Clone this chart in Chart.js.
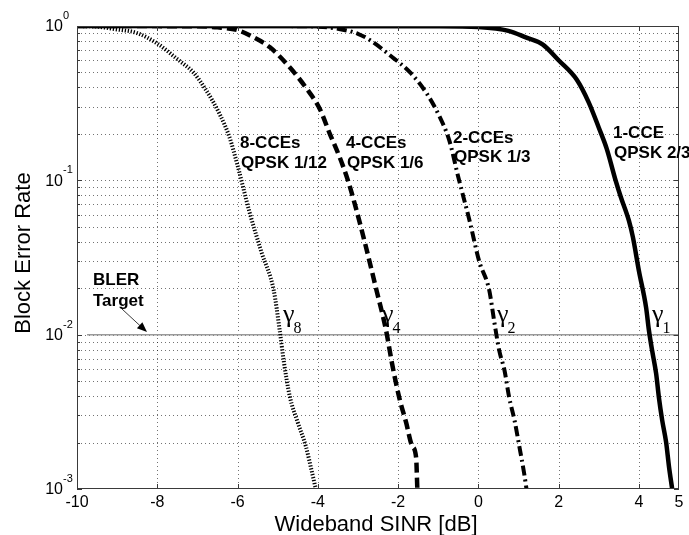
<!DOCTYPE html>
<html>
<head>
<meta charset="utf-8">
<script src="https://cdn.jsdelivr.net/npm/chart.js@4/dist/chart.umd.min.js"></script>
<style>
  html, body { margin: 0; padding: 0; background: #fff; }
  #wrap { width: 689px; height: 535px; }
</style>
</head>
<body>
<div id="wrap"><canvas id="c" width="689" height="535"></canvas></div>
<script>
// Wideband SINR [dB] and block error rate for each PDCCH aggregation level
const sinr8 = [-10, -9.5, -9, -8.5, -8, -7.5, -7.1, -6.8, -6.45, -6.2, -6.0, -5.7, -5.4, -5.1, -4.95, -4.85, -4.7, -4.5, -4.3, -4.15, -4.05];
const bler8 = [1, 0.99, 0.95, 0.90, 0.77, 0.61, 0.50, 0.39, 0.27, 0.19, 0.125, 0.062, 0.034, 0.0195, 0.0107, 0.0068, 0.0040, 0.0027, 0.0019, 0.0013, 0.001];

const sinr4 = [-10, -7, -6.5, -6.0, -5.7, -5.2, -4.7, -4.3, -3.95, -3.7, -3.45, -3.25, -3.05, -2.8, -2.55, -2.3, -2.15, -1.97, -1.8, -1.65, -1.55, -1.52];
const bler4 = [1, 0.995, 0.98, 0.94, 0.87, 0.73, 0.54, 0.40, 0.29, 0.20, 0.14, 0.10, 0.066, 0.037, 0.020, 0.0107, 0.0065, 0.0039, 0.0027, 0.0019, 0.0016, 0.001];

const sinr2 = [-10, -4.5, -4, -3.5, -3.0, -2.7, -2.15, -1.7, -1.3, -0.97, -0.72, -0.5, -0.22, 0.02, 0.27, 0.4, 0.52, 0.65, 0.77, 0.9, 1.02, 1.14, 1.2];
const bler2 = [1, 0.998, 0.99, 0.96, 0.89, 0.81, 0.63, 0.50, 0.37, 0.26, 0.18, 0.105, 0.055, 0.030, 0.0195, 0.012, 0.0079, 0.0059, 0.0039, 0.0028, 0.0019, 0.00127, 0.001];

const sinr1 = [-10, -1, 0, 0.75, 1.2, 1.6, 2.0, 2.45, 2.75, 3.0, 3.2, 3.42, 3.55, 3.75, 3.85, 4.0, 4.18, 4.25, 4.33, 4.43, 4.5, 4.58, 4.68, 4.75, 4.83];
const bler1 = [1, 0.998, 0.985, 0.93, 0.84, 0.76, 0.60, 0.45, 0.32, 0.22, 0.16, 0.10, 0.078, 0.055, 0.043, 0.026, 0.015, 0.0107, 0.0079, 0.0056, 0.0039, 0.0028, 0.0020, 0.0014, 0.001];

// BLER target level
const targetSinr = [-9.75, 5];
const targetBler = [0.01, 0.01];

// Axis ticks
const xTicks = [-10, -8, -6, -4, -2, 0, 2, 4, 5];
const yDecades = [1, 0.1, 0.01, 0.001];
const yExponents = ['0', '-1', '-2', '-3'];

// Curve annotations: [line 1, line 2]
const curveText = [
  ['8-CCEs', 'QPSK 1/12'],
  ['4-CCEs', 'QPSK 1/6'],
  ['2-CCEs', 'QPSK 1/3'],
  ['1-CCE', 'QPSK 2/3']
];
const gammaSubs = ['8', '4', '2', '1'];

const pts = (xs, ys) => xs.map((x, i) => ({ x, y: ys[i] }));

const SANS = '"Liberation Sans", Arial, Helvetica, sans-serif';
const SERIF = '"Liberation Serif", "Times New Roman", serif';

const overlay = {
  id: 'overlay',
  beforeDatasetsDraw(chart) {
    const { ctx, chartArea: a, scales: { x, y } } = chart;
    ctx.save();
    ctx.strokeStyle = 'rgba(0,0,0,0.55)';
    ctx.lineWidth = 1;
    ctx.setLineDash([1, 3]);
    ctx.beginPath();
    xTicks.slice(1, -1).forEach(v => {
      const px = Math.round(x.getPixelForValue(v)) + 0.5;
      ctx.moveTo(px, a.top); ctx.lineTo(px, a.bottom);
    });
    [0.001, 0.01, 0.1].forEach(d => {
      for (let m = 1; m <= 9; m++) {
        if (m === 1 && d === 0.001) continue;
        const py = Math.round(y.getPixelForValue(m * d)) + 0.5;
        ctx.moveTo(a.left, py); ctx.lineTo(a.right, py);
      }
    });
    ctx.stroke();
    ctx.restore();
  },
  afterDatasetsDraw(chart) {
    const { ctx, chartArea: a, scales: { x, y } } = chart;
    ctx.save();
    // axes box
    ctx.strokeStyle = '#3a3a3a';
    ctx.lineWidth = 1;
    ctx.setLineDash([]);
    ctx.strokeRect(a.left + 0.5, a.top + 0.5, a.right - a.left - 1, a.bottom - a.top - 1);

    // inward tick marks
    ctx.beginPath();
    xTicks.slice(1, -1).forEach(v => {
      const px = Math.round(x.getPixelForValue(v)) + 0.5;
      ctx.moveTo(px, a.bottom); ctx.lineTo(px, a.bottom - 5);
      ctx.moveTo(px, a.top); ctx.lineTo(px, a.top + 5);
    });
    [0.001, 0.01, 0.1].forEach(d => {
      for (let m = 1; m <= 9; m++) {
        const py = Math.round(y.getPixelForValue(m * d)) + 0.5;
        const len = m === 1 ? 5 : 3;
        ctx.moveTo(a.left, py); ctx.lineTo(a.left + len, py);
        ctx.moveTo(a.right, py); ctx.lineTo(a.right - len, py);
      }
    });
    ctx.stroke();

    // y tick labels with exponents
    ctx.fillStyle = '#000';
    yDecades.forEach((d, i) => {
      const py = y.getPixelForValue(d);
      ctx.font = '16px ' + SANS;
      ctx.textAlign = 'right';
      ctx.textBaseline = 'middle';
      ctx.fillText('10', 63, py + 1);
      ctx.font = '11px ' + SANS;
      ctx.textAlign = 'left';
      ctx.fillText(yExponents[i], 63, py - 10);
    });

    // axis titles
    ctx.font = '22px ' + SANS;
    ctx.textAlign = 'center';
    ctx.textBaseline = 'middle';
    ctx.fillText('Wideband SINR [dB]', 376, 525);
    ctx.save();
    ctx.translate(24, 253);
    ctx.rotate(-Math.PI / 2);
    ctx.fillText('Block Error Rate', 0, 0);
    ctx.restore();

    // curve annotations
    ctx.font = 'bold 17px ' + SANS;
    ctx.textAlign = 'left';
    ctx.textBaseline = 'middle';
    const spots = [[240, 143, 163], [346, 143, 163], [453, 138, 157], [613, 133, 153]];
    curveText.forEach((t, i) => {
      const [lx, y1, y2] = spots[i];
      ctx.fillText(t[0], lx, y1);
      ctx.fillText(t[1], lx + 1, y2);
    });

    // BLER target note with arrow
    ctx.fillText('BLER', 93, 280);
    ctx.fillText('Target', 93, 301);
    ctx.beginPath();
    ctx.moveTo(122, 309);
    ctx.lineTo(142, 327.5);
    ctx.lineWidth = 1;
    ctx.stroke();
    const tipX = 147, tipY = 332;
    const ang = Math.atan2(tipY - 309, tipX - 122);
    ctx.beginPath();
    ctx.moveTo(tipX, tipY);
    ctx.lineTo(tipX - 10 * Math.cos(ang) + 4 * Math.sin(ang), tipY - 10 * Math.sin(ang) - 4 * Math.cos(ang));
    ctx.lineTo(tipX - 10 * Math.cos(ang) - 4 * Math.sin(ang), tipY - 10 * Math.sin(ang) + 4 * Math.cos(ang));
    ctx.closePath();
    ctx.fill();

    // threshold symbols
    const gx = [283, 382, 497, 652];
    gx.forEach((gxi, i) => {
      ctx.font = '26px ' + SERIF;
      ctx.textAlign = 'left';
      ctx.textBaseline = 'alphabetic';
      ctx.fillText('\u03b3', gxi, 322);
      const w = ctx.measureText('\u03b3').width;
      ctx.font = '16px ' + SERIF;
      ctx.fillText(gammaSubs[i], gxi + w - 1, 333);
    });
    ctx.restore();
  }
};

new Chart(document.getElementById('c'), {
  type: 'line',
  data: {
    datasets: [
      { label: 'BLER target', data: pts(targetSinr, targetBler), borderColor: '#9a9a9a', borderWidth: 1.5, pointRadius: 0, order: 5 },
      { label: '8-CCEs QPSK 1/12', data: pts(sinr8, bler8), borderColor: '#000', borderWidth: 4, borderDash: [1.3, 1.7], pointRadius: 0, cubicInterpolationMode: 'monotone', order: 1 },
      { label: '4-CCEs QPSK 1/6', data: pts(sinr4, bler4), borderColor: '#000', borderWidth: 4.5, borderDash: [10, 5], pointRadius: 0, cubicInterpolationMode: 'monotone', order: 1 },
      { label: '2-CCEs QPSK 1/3', data: pts(sinr2, bler2), borderColor: '#000', borderWidth: 4, borderDash: [10, 4, 2, 4], pointRadius: 0, cubicInterpolationMode: 'monotone', order: 1 },
      { label: '1-CCE QPSK 2/3', data: pts(sinr1, bler1), borderColor: '#000', borderWidth: 4.5, pointRadius: 0, cubicInterpolationMode: 'monotone', order: 1 }
    ]
  },
  options: {
    responsive: false,
    animation: false,
    devicePixelRatio: 1,
    layout: { padding: { left: 0, right: 10, top: 26, bottom: 0 } },
    plugins: { legend: { display: false }, tooltip: { enabled: false } },
    scales: {
      x: {
        type: 'linear',
        min: -10,
        max: 5,
        afterBuildTicks: s => { s.ticks = xTicks.map(v => ({ value: v })); },
        afterFit: s => { s.height = 46; },
        grid: { display: false, drawTicks: false },
        border: { display: false },
        ticks: {
          color: '#000',
          font: { family: SANS, size: 16 },
          padding: 4,
          maxRotation: 0,
          autoSkip: false,
          callback: v => String(v)
        }
      },
      y: {
        type: 'logarithmic',
        min: 0.001,
        max: 1,
        afterFit: s => { s.width = 77; },
        grid: { display: false, drawTicks: false },
        border: { display: false },
        ticks: { display: false }
      }
    }
  },
  plugins: [overlay]
});
</script>
</body>
</html>
